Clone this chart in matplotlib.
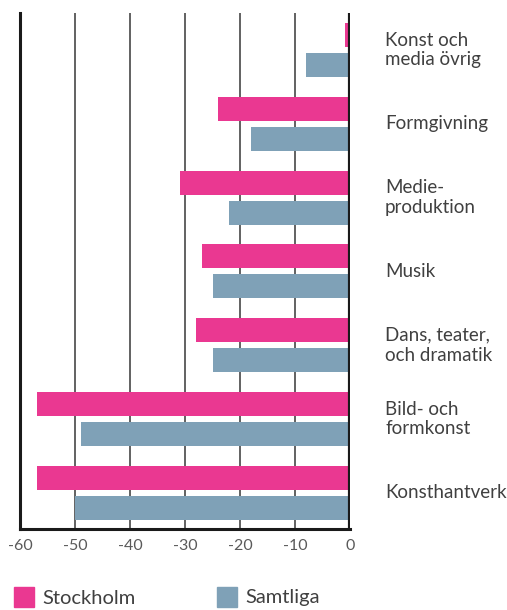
import matplotlib
matplotlib.use("Agg")
import matplotlib.pyplot as plt
from matplotlib.patches import Rectangle
import numpy as np

categories = ["Konst och\nmedia övrig", "Formgivning", "Medie-\nproduktion", "Musik",
              "Dans, teater,\noch dramatik", "Bild- och\nformkonst", "Konsthantverk"]
stockholm = [-1, -24, -31, -27, -28, -57, -57]
samtliga = [-8, -18, -22, -25, -25, -49, -50]
xticks = [-60, -50, -40, -30, -20, -10, 0]
series_names = ["Stockholm", "Samtliga"]

pink = "#EA3891"
blue = "#7FA1B7"
txt = "#404040"

plt.rcParams['font.family'] = ['Lato', 'DejaVu Sans']

W, H = 507, 610
fig = plt.figure(figsize=(W/100, H/100), dpi=100)
ax = fig.add_axes([20/W, 1-529/H, 330/W, 516/H])

y = np.arange(len(categories))
h = 0.325
off = 0.203
ax.barh(y - off, stockholm, height=h, color=pink, zorder=3)
ax.barh(y + off, samtliga, height=h, color=blue, zorder=3)

ax.set_xlim(-60, 0)
ax.set_ylim(6.49, -0.5)
ax.set_xticks(xticks)
ax.set_xticklabels([str(v) for v in xticks], color="#5a5a5a", fontsize=11.5)
ax.tick_params(axis='x', length=0, pad=7)
ax.set_yticks([])
for v in xticks[1:-1]:
    ax.axvline(v, color="#555555", lw=1.3, zorder=1)
ax.axvline(0, color="#1a1a1a", lw=3, zorder=4)
ax.spines['top'].set_visible(False)
ax.spines['right'].set_visible(False)
ax.spines['left'].set_linewidth(2.2)
ax.spines['bottom'].set_linewidth(2.2)
ax.spines['left'].set_color("#1a1a1a")
ax.spines['bottom'].set_color("#1a1a1a")

for i, c in enumerate(categories):
    yc = ax.transData.transform((0, i))[1]
    fig.text(385/W, yc/H, c, ha='left', va='center', fontsize=13.5,
             color=txt, linespacing=1.2)

# legend
for (x0, name, col) in [(14, series_names[0], pink), (217, series_names[1], blue)]:
    fig.patches.append(Rectangle((x0/W, 1-607/H), 20/W, 20/H, transform=fig.transFigure,
                                 color=col, figure=fig))
    fig.text((x0+28)/W, 1-598/H, name, ha='left', va='center', fontsize=14.5,
             color=txt)

fig.savefig("out.png", dpi=100)
